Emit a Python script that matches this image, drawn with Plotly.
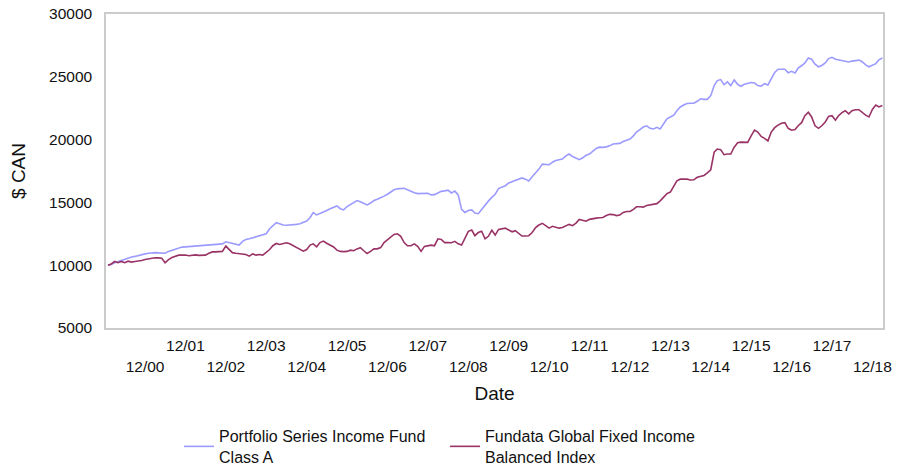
import pandas as pd
import plotly.graph_objects as go

# Monthly values, Jan 2000 - Mar 2019 (growth of $10,000)
fund_values = [
    # 2000
    10000, 10050, 10200, 10300, 10400, 10450, 10550, 10650, 10700, 10780, 10850, 10900,
    # 2001
    10950, 10980, 11000, 10980, 10990, 10950, 11100, 11200, 11280, 11350, 11440, 11460,
    # 2002
    11480, 11520, 11520, 11540, 11560, 11570, 11580, 11600, 11620, 11650, 11700, 11860,
    # 2003
    11800, 11700, 11650, 11600, 11900, 12050, 12100, 12180, 12240, 12300, 12400, 12500,
    # 2004
    12900, 13150, 13390, 13300, 13200, 13180, 13200, 13200, 13250, 13300, 13400, 13520,
    # 2005
    13800, 14190, 14000, 14100, 14240, 14350, 14500, 14600, 14720, 14500, 14400, 14670,
    # 2006
    14850, 14990, 15150, 15050, 14950, 14800, 14950, 15150, 15250, 15350, 15500, 15650,
    # 2007
    15800, 16000, 16080, 16120, 16130, 16000, 15850, 15760, 15700, 15720, 15700, 15730,
    # 2008
    15600, 15620, 15750, 15880, 15920, 15970, 15750, 15900, 15600, 14450, 14200, 14350,
    # 2009
    14400, 14150, 14100, 14450, 14720, 15100, 15400, 15650, 16100, 16250, 16330, 16550,
    # 2010
    16650, 16700, 16800, 16950, 16850, 16700, 17050, 17350, 17650, 18050, 18050, 18000,
    # 2011
    18200, 18330, 18400, 18450, 18700, 18850, 18650, 18550, 18400, 18550, 18750, 18850,
    # 2012
    19050, 19300, 19400, 19380, 19420, 19500, 19650, 19700, 19700, 19850, 19950, 20050,
    # 2013
    20300, 20600, 20800, 21000, 21100, 20900, 20850, 20980, 20850, 21250, 21650, 21800,
    # 2014
    21950, 22300, 22600, 22750, 22880, 22900, 22900, 23050, 23250, 23200, 23200, 23500,
    # 2015
    24300, 24700, 24780, 24380, 24600, 24300, 24750, 24400, 24250, 24400, 24500, 24550,
    # 2016
    24500, 24300, 24250, 24450, 24350, 24850, 25350, 25600, 25630, 25600, 25320, 25440,
    # 2017
    25300, 25700, 25880, 26100, 26500, 26400, 26000, 25800, 25900, 26100, 26450, 26550,
    # 2018
    26400, 26350, 26300, 26250, 26180, 26250, 26320, 26330, 26200, 25950, 25800, 25950,
    # 2019
    26050, 26350, 26500,
]

index_values = [
    # 2000
    10000, 10100, 10300, 10200, 10300, 10200, 10320, 10250, 10300, 10320, 10380, 10450,
    # 2001
    10500, 10550, 10590, 10580, 10560, 10190, 10450, 10610, 10700, 10800, 10800, 10810,
    # 2002
    10750, 10800, 10820, 10780, 10760, 10800, 10950, 11060, 11060, 11060, 11100, 11520,
    # 2003
    11250, 11000, 10950, 10900, 10850, 10850, 10720, 10900, 10800, 10850, 10800, 11000,
    # 2004
    11250, 11550, 11730, 11650, 11700, 11790, 11700, 11550, 11400, 11200, 11120, 11250,
    # 2005
    11600, 11700, 11470, 11800, 11920, 11750, 11600, 11450, 11200, 11100, 11080, 11100,
    # 2006
    11200, 11150, 11300, 11390, 11150, 10930, 11100, 11300, 11300, 11400, 11800, 12050,
    # 2007
    12250, 12450, 12500, 12300, 11800, 11550, 11550, 11700, 11500, 11100, 11500, 11550,
    # 2008
    11600, 11550, 12100, 12050, 11800, 11800, 11790, 11900, 11700, 11600, 12180, 12700,
    # 2009
    12800, 12350, 12600, 12700, 12100, 12300, 12780, 12400, 12850, 12900, 12950, 12800,
    # 2010
    12660, 12750, 12550, 12320, 12320, 12350, 12600, 13000, 13200, 13330, 13150, 12950,
    # 2011
    13100, 13000, 12950, 13000, 13150, 13250, 13150, 13350, 13650, 13550, 13500, 13650,
    # 2012
    13730, 13750, 13780, 13800, 13950, 14050, 14030, 13950, 14000, 14200, 14280, 14280,
    # 2013
    14450, 14650, 14650, 14620, 14750, 14800, 14830, 14900, 15120, 15450, 15700, 15820,
    # 2014
    16300, 16720, 16850, 16850, 16850, 16780, 16800, 17000, 17050, 17150, 17350, 17600,
    # 2015
    19000, 19250, 19200, 18800, 18850, 18850, 19400, 19750, 19800, 19800, 19780, 20300,
    # 2016
    20750, 20600, 20250, 20100, 19900, 20600, 20950, 21150, 21300, 21350, 20900, 20750,
    # 2017
    20800, 21100, 21350, 21900, 22180, 21800, 21100, 20900, 21100, 21400, 21850, 21900,
    # 2018
    21550, 21900, 22150, 22300, 22050, 22300, 22380, 22380, 22150, 21950, 21800, 22400,
    # 2019
    22750, 22600, 22720,
]

series_names = [
    "Portfolio Series Income Fund<br>Class A",
    "Fundata Global Fixed Income<br>Balanced Index",
]

tick_years = list(range(2000, 2019))
tick_labels = [f"12/{y % 100:02d}" for y in tick_years]

y_ticks = [5000, 10000, 15000, 20000, 25000, 30000]

dates = pd.date_range(start="2000-01-31", periods=len(fund_values), freq=pd.offsets.MonthEnd())
tick_dates = [pd.Timestamp(f"{y}-12-31") for y in tick_years]
# alternate rows: even positions lower row, odd positions upper row
tick_text = [("<br>" + t) if k % 2 == 0 else t for k, t in enumerate(tick_labels)]

FONT = "Liberation Sans, Arial, sans-serif"

fig = go.Figure()
fig.add_trace(go.Scatter(x=dates, y=fund_values, mode="lines", name=series_names[0],
                         line=dict(color="#9b9bff", width=1.6)))
fig.add_trace(go.Scatter(x=dates, y=index_values, mode="lines", name=series_names[1],
                         line=dict(color="#993366", width=1.6)))

fig.update_layout(
    width=907, height=465,
    margin=dict(l=106, r=24, t=14, b=137, autoexpand=False),
    paper_bgcolor="white", plot_bgcolor="white",
    font=dict(family=FONT, size=15.5, color="#111111"),
    showlegend=True,
    legend=dict(orientation="h", x=0.094, xanchor="left", y=-0.29, yanchor="top",
                font=dict(size=16), traceorder="normal", tracegroupgap=0,
                entrywidth=221, entrywidthmode="pixels"),
)
fig.update_xaxes(
    range=[pd.Timestamp("2000-01-13"), pd.Timestamp("2019-04-06")],
    tickvals=tick_dates, ticktext=tick_text, tickangle=0,
    showgrid=False, zeroline=False, automargin=False,
    showline=True, linecolor="#cccccc", linewidth=1.5, mirror=True,
    ticks="", ticklabelstandoff=3,
    title=dict(text="Date", standoff=13),
)
fig.update_yaxes(
    range=[5000, 30000], tickvals=y_ticks, ticktext=[str(v) for v in y_ticks],
    showgrid=False, zeroline=False, automargin=False,
    showline=True, linecolor="#cccccc", linewidth=1.5, mirror=True,
    ticks="", ticklabelstandoff=9, ticklabeloverflow="allow",
    title=dict(text="$ CAN", standoff=18),
)

# remove the browser's default 8px body margin so the figure fills the window
fig.write_html("out.html",
               config={"displayModeBar": False},
               post_script="document.body.style.margin='0';document.body.style.overflow='hidden';")
